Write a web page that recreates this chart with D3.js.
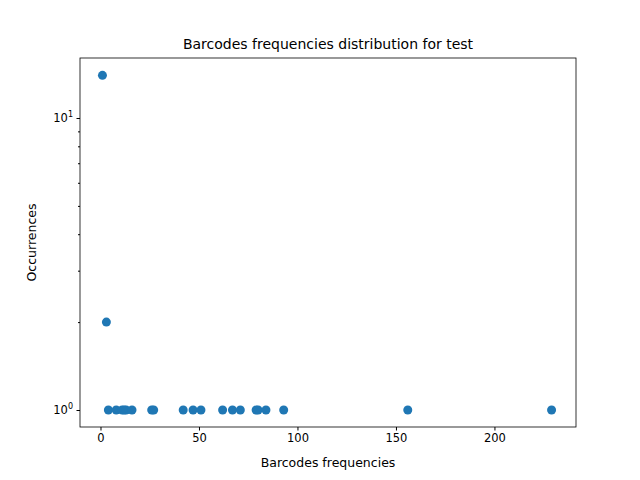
<!DOCTYPE html>
<html><head><meta charset="utf-8">
<script src="https://cdn.jsdelivr.net/npm/d3@7"></script>
<style>body{margin:0;background:#fff}text{font-family:"DejaVu Sans",sans-serif}</style>
</head><body><svg width="640" height="480"></svg>
<script>
const freqs = [1, 3, 4, 8, 11, 12, 13, 16, 26, 27, 42, 47, 51, 62, 67, 71, 79, 80, 84, 93, 156, 229];
const occurrences = [14, 2, 1, 1, 1, 1, 1, 1, 1, 1, 1, 1, 1, 1, 1, 1, 1, 1, 1, 1, 1, 1];
const xTicks = [0, 50, 100, 150, 200];

const svg = d3.select("svg");
const L = 80, R = 576, T = 58, B = 427;
const x = d3.scaleLinear().domain([-10.4, 241.4]).range([L, R]);
const y = d3.scaleLog().domain([0.8746, 16.05]).range([B, T]);

svg.append("g").selectAll("circle").data(freqs).join("circle")
  .attr("cx", d => x(d)).attr("cy", (d, i) => y(occurrences[i]))
  .attr("r", 4.5).attr("fill", "#1f77b4");

const xa = svg.append("g").attr("transform", `translate(0,${B})`)
  .call(d3.axisBottom(x).tickValues(xTicks).tickSize(3.5).tickPadding(3.5).tickFormat(d3.format("d")));
const ya = svg.append("g").attr("transform", `translate(${L},0)`)
  .call(d3.axisLeft(y).tickValues([1, 10]).tickSize(3.5).tickPadding(3.5).tickFormat(() => ""));
// minor ticks
svg.append("g").attr("transform", `translate(${L},0)`)
  .call(d3.axisLeft(y).tickValues([2,3,4,5,6,7,8,9]).tickSize(2).tickFormat(""));
ya.selectAll(".tick text").each(function(d){
  const t = d3.select(this).text("10");
  t.append("tspan").attr("dy", "-0.6em").attr("font-size", "8px").text(d === 1 ? "0" : "1");
});
svg.selectAll(".domain").remove();
svg.selectAll(".tick text").attr("font-size", "11.5px").attr("fill", "#000");
svg.selectAll(".tick line").attr("stroke", "#000");
svg.append("rect").attr("x", L).attr("y", T).attr("width", R - L).attr("height", B - T)
  .attr("fill", "none").attr("stroke", "#000").attr("stroke-width", 0.8);

svg.append("text").attr("x", (L + R) / 2).attr("y", 49).attr("text-anchor", "middle")
  .attr("font-size", "14px").text("Barcodes frequencies distribution for test");
svg.append("text").attr("x", (L + R) / 2).attr("y", 467).attr("text-anchor", "middle")
  .attr("font-size", "12.5px").text("Barcodes frequencies");
svg.append("text").attr("transform", `translate(36,${(T + B) / 2}) rotate(-90)`).attr("text-anchor", "middle")
  .attr("font-size", "12.5px").text("Occurrences");
</script></body></html>
